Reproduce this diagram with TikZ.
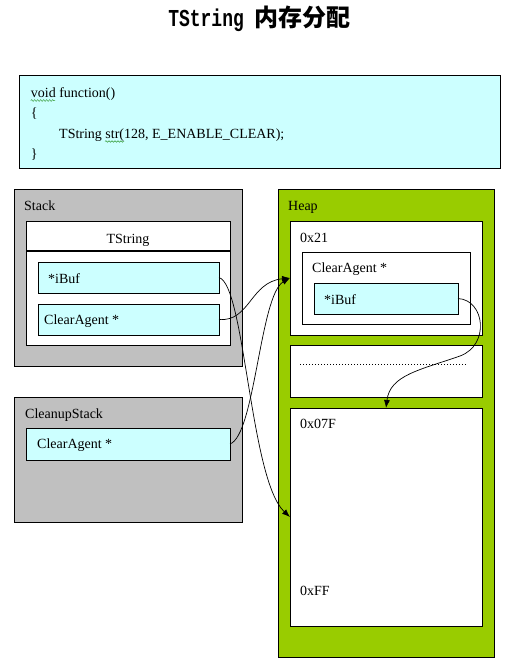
\documentclass[tikz,border=0pt]{standalone}
\usepackage{fontspec}
\setmainfont{Liberation Serif}
\newfontfamily\titlemono{Liberation Mono}
\newfontfamily\cjk{Noto Sans CJK SC}
\usetikzlibrary{arrows.meta,decorations.pathmorphing}
\definecolor{cyanbox}{HTML}{CCFFFF}
\definecolor{stackgray}{HTML}{C0C0C0}
\definecolor{heapgreen}{HTML}{99CC00}
\definecolor{wavegreen}{HTML}{339933}
\begin{document}
\begin{tikzpicture}[x=1pt,y=-1pt,
  box/.style={draw=black, line width=0.9pt, inner sep=0pt, outer sep=0pt, anchor=north west},
  lbl/.style={anchor=base west, inner sep=0pt, font=\fontsize{14}{16}\selectfont},
  clbl/.style={anchor=base, inner sep=0pt, font=\fontsize{14}{16}\selectfont},
  link/.style={draw=black, line width=0.7pt, -{Latex[length=8pt,width=6pt]}},
  wave/.style={draw=wavegreen, line width=0.5pt, decorate, decoration={snake, amplitude=0.8pt, segment length=3pt}}]
\useasboundingbox (0,0) rectangle (507,669);
% title
\node[anchor=base, inner sep=0pt] (title) at (259.5,27)
  {\titlemono\bfseries\fontsize{18}{20}\selectfont\scalebox{1}[1.35]{TString} {\cjk\bfseries\fontsize{24}{26}\selectfont 内存分配}};
% code box
\node[box, fill=cyanbox, minimum width=481pt, minimum height=93pt] (code) at (19,75) {};
\node[lbl] (c1) at (30.7,97) {void function()};
\node[lbl] (c2) at (30.7,117.5) {\{};
\node[lbl] (c3) at (59,138) {TString str(128, E\_ENABLE\_CLEAR);};
\node[lbl] (c4) at (30.7,158.5) {\}};
\draw[wave] (30.7,100.5) -- (55,100.5);
\draw[wave] (105,141.5) -- (124,141.5);
% stack
\node[box, fill=stackgray, minimum width=228pt, minimum height=177pt] (stack) at (14,189) {};
\node[lbl] (stacklbl) at (24,210) {Stack};
\node[box, fill=white, minimum width=204pt, minimum height=124pt] (tsbox) at (26,221) {};
\draw[line width=2pt] ([yshift=-30pt]tsbox.north west) -- ([yshift=-30pt]tsbox.north east);
\node[clbl] (tslbl) at (128,243) {TString};
\node[box, fill=cyanbox, minimum width=181pt, minimum height=31pt] (sibuf) at (38,262) {};
\node[lbl] (sibuflbl) at (48,283) {*iBuf};
\node[box, fill=cyanbox, minimum width=181pt, minimum height=31pt] (sca) at (38,304) {};
\node[lbl] (scalbl) at (44,324) {ClearAgent *};
% cleanup stack
\node[box, fill=stackgray, minimum width=228pt, minimum height=125pt] (cleanup) at (14,397) {};
\node[lbl] (cleanuplbl) at (25,418) {CleanupStack};
\node[box, fill=cyanbox, minimum width=204pt, minimum height=32pt] (cca) at (26,428) {};
\node[lbl] (ccalbl) at (37,448) {ClearAgent *};
% heap
\node[box, fill=heapgreen, minimum width=216pt, minimum height=468pt] (heap) at (278,189) {};
\node[lbl] (heaplbl) at (288,210) {Heap};
\node[box, fill=white, minimum width=192pt, minimum height=114pt] (h21) at (290,221) {};
\node[lbl] (h21lbl) at (300,242) {0x21};
\node[box, fill=white, minimum width=168pt, minimum height=72pt] (hca) at (302,252) {};
\node[lbl] (hcalbl) at (312,272) {ClearAgent *};
\node[box, fill=cyanbox, minimum width=144pt, minimum height=31pt] (hibuf) at (314,283) {};
\node[lbl] (hibuflbl) at (324,304) {*iBuf};
\node[box, fill=white, minimum width=192pt, minimum height=52pt] (hdots) at (290,345) {};
\draw[line width=0.6pt, dash pattern=on 0.8pt off 2.2pt] (300,364) -- (467,364);
\node[box, fill=white, minimum width=192pt, minimum height=218pt] (m07f) at (290,408) {};
\node[lbl] (m07flbl) at (300,428) {0x07F};
\node[lbl] (mfflbl) at (300,595) {0xFF};
% connectors
\draw[link] (sibuf.east) .. controls (245,285) and (250,480) .. (m07f.west);
\draw[link] (sca.east) .. controls (250,322) and (250,282) .. (h21.west);
\draw[link] (cca.east) .. controls (255,435) and (260,295) .. (h21.west);
\draw[link] (hibuf.east) .. controls (485,300) and (490,345) .. (460,356)
  .. controls (420,370) and (390,375) .. (m07f.north);
\end{tikzpicture}
\end{document}
